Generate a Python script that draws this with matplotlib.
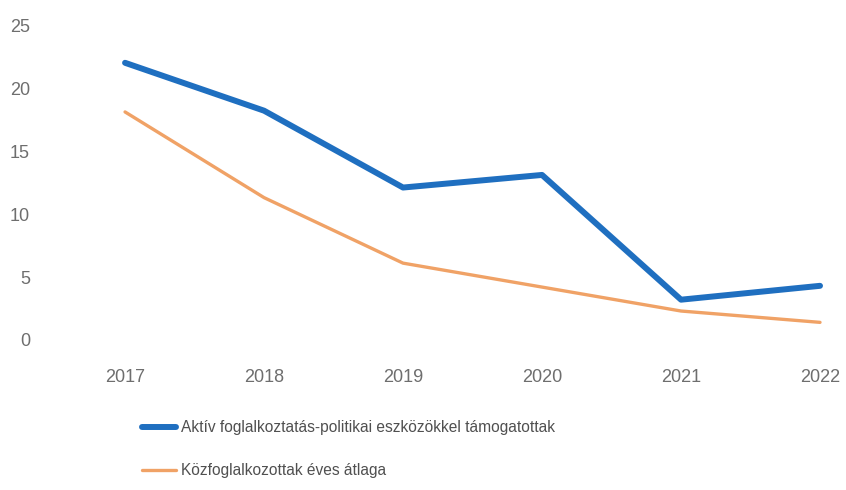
import matplotlib.pyplot as plt
from matplotlib.lines import Line2D

# data (scan is a little rotated, values corrected for that)
years = ['2017', '2018', '2019', '2020', '2021', '2022']
aktiv = [22.0, 18.2, 12.1, 13.1, 3.2, 4.3]
kozfog = [18.1, 11.3, 6.1, 4.2, 2.3, 1.4]
labels = ['Aktív foglalkoztatás-politikai eszközökkel támogatottak',
          'Közfoglalkozottak éves átlaga']
yticks = [0, 5, 10, 15, 20, 25]

plt.rcParams['font.family'] = ['Liberation Sans', 'DejaVu Sans']
grey = '#6e6e6e'
blue = '#1f6fc0'
orange = '#f0a266'

W, H = 846, 490
fig = plt.figure(figsize=(W / 100, H / 100), dpi=100)
# axes in pixel terms: left 55, right 846, top 25, bottom 340
ax = fig.add_axes([55 / W, 1 - 340 / H, (846 - 55) / W, (340 - 25) / H])

x = list(range(len(years)))
ax.plot(x, aktiv, color=blue, lw=4.3, solid_capstyle='round', clip_on=False)
ax.plot(x, kozfog, color=orange, lw=2.4, solid_capstyle='round', clip_on=False)

ax.set_xlim(-0.504, 5.187)
ax.set_ylim(0, 25)
ax.set_xticks(x)
ax.set_xticklabels(years)
ax.set_yticks(yticks)
for s in ax.spines.values():
    s.set_visible(False)
ax.tick_params(axis='both', length=0, colors=grey, labelsize=13)
ax.tick_params(axis='x', pad=21)
ax.tick_params(axis='y', pad=18)

handles = [Line2D([], [], color=blue, lw=4.3, solid_capstyle='round'),
           Line2D([], [], color=orange, lw=2.4, solid_capstyle='round')]
leg = fig.legend(handles, labels, loc='upper left', bbox_to_anchor=(136 / W, 1 - 414 / H),
                 frameon=False, fontsize=11.2, handlelength=2.2, handletextpad=0.3,
                 labelspacing=1.8, borderaxespad=0)
for t in leg.get_texts():
    t.set_color('#505050')

fig.savefig('out.png', dpi=100)
